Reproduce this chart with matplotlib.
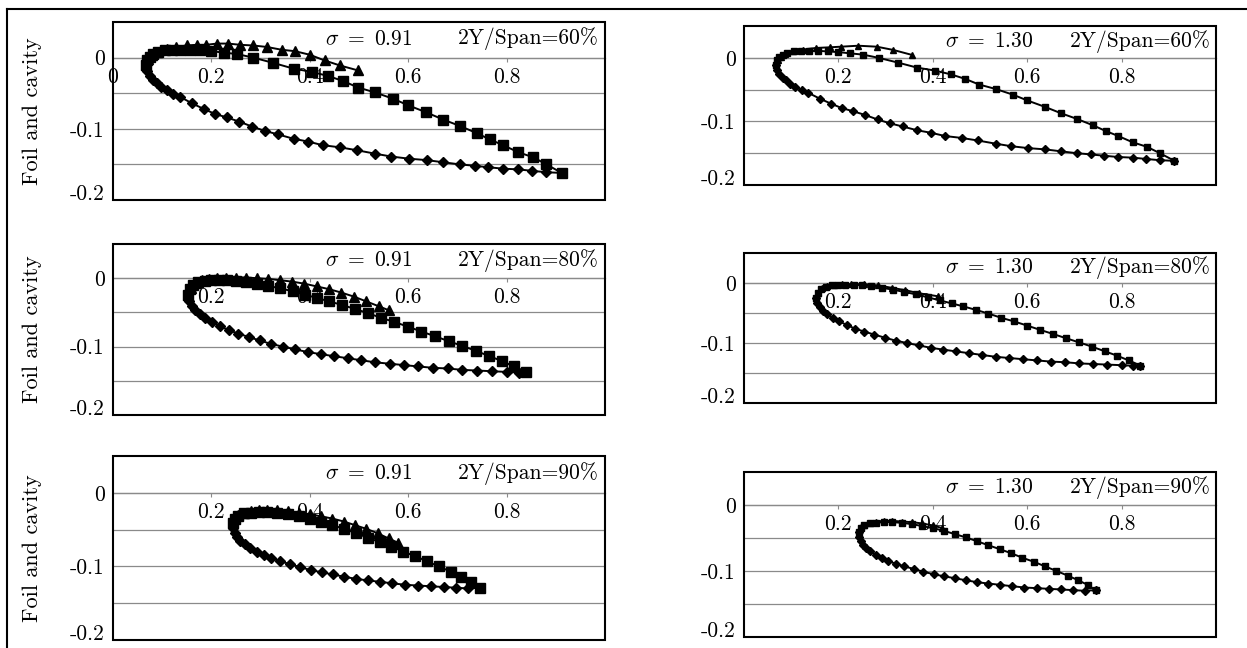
import matplotlib.pyplot as plt
from matplotlib.lines import Line2D
from matplotlib.patches import Rectangle

plt.rcParams['mathtext.fontset'] = 'cm'
plt.rcParams['font.family'] = ['cmr10', 'DejaVu Serif']
plt.rcParams['font.size'] = 15.5
plt.rcParams['axes.unicode_minus'] = False

# ---- data (x/c, y/c) ----
# 2Y/Span = 60%
upper60_x = [0.068, 0.070, 0.075, 0.082, 0.092, 0.105, 0.120, 0.137, 0.156, 0.177, 0.200, 0.225, 0.252,
             0.285, 0.326, 0.367, 0.404, 0.438, 0.468, 0.498, 0.533, 0.570, 0.600, 0.637, 0.671, 0.705,
             0.739, 0.766, 0.793, 0.824, 0.854, 0.881, 0.912]
upper60_y = [-0.011, -0.004, 0.001, 0.005, 0.008, 0.010, 0.011, 0.011, 0.011, 0.010, 0.009, 0.007, 0.005,
             0.000, -0.0075, -0.0155, -0.020, -0.026, -0.033, -0.042, -0.049, -0.058, -0.067, -0.077, -0.087,
             -0.096, -0.106, -0.115, -0.123, -0.133, -0.140, -0.150, -0.162]
lower60_x = [0.068, 0.070, 0.075, 0.082, 0.089, 0.098, 0.109, 0.122, 0.136, 0.160, 0.184, 0.207, 0.231,
             0.257, 0.283, 0.309, 0.336, 0.367, 0.397, 0.426, 0.461, 0.495, 0.533, 0.566, 0.602, 0.638,
             0.671, 0.705, 0.736, 0.763, 0.793, 0.824, 0.851, 0.881, 0.912]
lower60_y = [-0.011, -0.019, -0.026, -0.031, -0.035, -0.041, -0.046, -0.051, -0.055, -0.064, -0.072, -0.079,
             -0.084, -0.090, -0.097, -0.103, -0.108, -0.114, -0.118, -0.123, -0.126, -0.130, -0.135, -0.139,
             -0.142, -0.144, -0.147, -0.150, -0.152, -0.154, -0.156, -0.157, -0.159, -0.161, -0.162]
cav60a_x = [0.068, 0.072, 0.079, 0.089, 0.109, 0.129, 0.150, 0.170, 0.190, 0.211, 0.234, 0.258, 0.285,
            0.312, 0.343, 0.370, 0.400, 0.430, 0.461, 0.498]
cav60a_y = [-0.011, -0.002, 0.004, 0.008, 0.0126, 0.015, 0.017, 0.018, 0.018, 0.0197, 0.0197, 0.018, 0.017,
            0.015, 0.011, 0.009, 0.004, -0.004, -0.011, -0.018]
cav60b_x = [0.068, 0.072, 0.079, 0.086, 0.104, 0.125, 0.153, 0.182, 0.206, 0.242, 0.281, 0.316, 0.355]
cav60b_y = [-0.011, -0.004, 0.002, 0.006, 0.010, 0.013, 0.0155, 0.0165, 0.0175, 0.019, 0.0175, 0.0124, 0.0047]

# 2Y/Span = 80%
upper80_x = [0.153, 0.156, 0.163, 0.173, 0.186, 0.200, 0.215, 0.232, 0.250, 0.270, 0.292, 0.315, 0.340,
             0.365, 0.390, 0.415, 0.440, 0.465, 0.492, 0.518, 0.545, 0.572, 0.600, 0.627, 0.655, 0.682,
             0.710, 0.737, 0.765, 0.790, 0.815, 0.840]
upper80_y = [-0.025, -0.016, -0.010, -0.006, -0.004, -0.003, -0.003, -0.003, -0.004, -0.005, -0.008, -0.011,
             -0.015, -0.019, -0.024, -0.029, -0.034, -0.039, -0.045, -0.051, -0.058, -0.064, -0.071, -0.078,
             -0.085, -0.092, -0.099, -0.106, -0.114, -0.121, -0.129, -0.1375]
lower80_x = [0.153, 0.155, 0.160, 0.167, 0.176, 0.188, 0.202, 0.218, 0.235, 0.255, 0.276, 0.298, 0.321,
             0.345, 0.370, 0.396, 0.422, 0.449, 0.477, 0.505, 0.533, 0.562, 0.591, 0.620, 0.650, 0.680,
             0.710, 0.740, 0.770, 0.800, 0.825, 0.840]
lower80_y = [-0.025, -0.033, -0.040, -0.046, -0.052, -0.058, -0.064, -0.070, -0.076, -0.081, -0.086, -0.091,
             -0.096, -0.100, -0.104, -0.108, -0.111, -0.114, -0.117, -0.120, -0.123, -0.125, -0.127, -0.129,
             -0.131, -0.132, -0.134, -0.135, -0.136, -0.137, -0.138, -0.1375]
cav80a_x = [0.153, 0.158, 0.168, 0.180, 0.195, 0.212, 0.230, 0.250, 0.271, 0.293, 0.316, 0.340, 0.364,
            0.389, 0.414, 0.439, 0.464, 0.490, 0.515, 0.540, 0.561]
cav80a_y = [-0.025, -0.014, -0.007, -0.003, -0.001, 0.000, 0.001, 0.001, 0.001, 0.000, -0.001, -0.003,
            -0.005, -0.008, -0.012, -0.016, -0.021, -0.027, -0.034, -0.041, -0.047]
cav80b_x = [0.153, 0.157, 0.165, 0.176, 0.190, 0.208, 0.227, 0.255, 0.284, 0.313, 0.342, 0.370, 0.410]
cav80b_y = [-0.025, -0.016, -0.009, -0.005, -0.003, -0.002, -0.002, -0.002, -0.004, -0.008, -0.012, -0.017, -0.022]

# 2Y/Span = 90%
upper90_x = [0.243, 0.247, 0.255, 0.266, 0.280, 0.296, 0.314, 0.334, 0.356, 0.378, 0.400, 0.423, 0.446,
             0.470, 0.494, 0.518, 0.542, 0.566, 0.590, 0.614, 0.638, 0.662, 0.686, 0.708, 0.728, 0.745]
upper90_y = [-0.041, -0.035, -0.031, -0.028, -0.027, -0.026, -0.026, -0.027, -0.029, -0.032, -0.035, -0.039,
             -0.044, -0.049, -0.055, -0.061, -0.067, -0.073, -0.080, -0.086, -0.093, -0.100, -0.107, -0.114,
             -0.121, -0.129]
lower90_x = [0.243, 0.244, 0.247, 0.252, 0.259, 0.268, 0.279, 0.292, 0.306, 0.322, 0.340, 0.360, 0.380,
             0.402, 0.424, 0.447, 0.470, 0.494, 0.518, 0.543, 0.568, 0.594, 0.620, 0.646, 0.672, 0.698,
             0.722, 0.745]
lower90_y = [-0.041, -0.048, -0.054, -0.060, -0.065, -0.070, -0.075, -0.080, -0.085, -0.089, -0.093, -0.097,
             -0.101, -0.105, -0.108, -0.111, -0.114, -0.117, -0.119, -0.121, -0.123, -0.125, -0.126, -0.127,
             -0.128, -0.129, -0.130, -0.129]
cav90a_x = [0.243, 0.247, 0.255, 0.266, 0.280, 0.296, 0.314, 0.334, 0.356, 0.378, 0.400, 0.423, 0.446,
            0.469, 0.492, 0.515, 0.538, 0.560, 0.580]
cav90a_y = [-0.041, -0.034, -0.030, -0.027, -0.025, -0.024, -0.024, -0.024, -0.025, -0.027, -0.029, -0.032,
            -0.035, -0.039, -0.044, -0.049, -0.055, -0.062, -0.068]
cav90b_x = [0.243, 0.247, 0.255, 0.266, 0.280, 0.296, 0.314, 0.334, 0.356, 0.378, 0.400, 0.420]
cav90b_y = [-0.041, -0.034, -0.030, -0.027, -0.025, -0.024, -0.024, -0.025, -0.026, -0.028, -0.031, -0.035]

sigma_labels = [r'$\sigma\ =\ 0.91$', r'$\sigma\ =\ 1.30$']
span_labels = ['2Y/Span=60%', '2Y/Span=80%', '2Y/Span=90%']
ytick_vals = [0.0, -0.05, -0.1, -0.15, -0.2]
ytick_text = ['0', '', '-0.1', '', '-0.2']

W, H = 1247, 648
fig = plt.figure(figsize=(W / 100, H / 100), dpi=100)

def px_rect(l, r, t, b):
    return [l / W, 1 - b / H, (r - l) / W, (b - t) / H]

def draw_panel(rect, up, lo, cav, sig, span, big, xticks, ylabel):
    ax = fig.add_axes(rect)
    ax.set_xlim(0, 1)
    ax.set_ylim(-0.2, 0.05)
    if big:
        msd, mss, mst, lw = 5.5, 7, 7.5, 1.4
    else:
        msd, mss, mst, lw = 3.8, 4, 4.5, 1.4
    ax.plot(lo[0], lo[1], color='black', lw=lw, marker='D', ms=msd, zorder=3)
    ax.plot(up[0], up[1], color='black', lw=lw, marker='s', ms=mss, zorder=3)
    ax.plot(cav[0], cav[1], color='black', lw=lw, marker='^', ms=mst, zorder=3)

    ax.set_yticks(ytick_vals)
    ax.set_yticklabels(ytick_text)
    ax.yaxis.grid(True, color='#8a8a8a', lw=0.9)
    ax.tick_params(axis='y', length=0, pad=6)
    # bottom label sits on its gridline in the original
    ax.get_yticklabels()[-1].set_va('baseline')

    ax.set_xticks(xticks)
    ax.set_xticklabels(['%g' % v for v in xticks])
    ax.tick_params(axis='x', length=3, direction='out', pad=4, color='#8a8a8a')
    if xticks[0] == 0:
        ax.get_xticklabels()[0].set_ha('left')

    for s in ['top', 'left', 'right']:
        ax.spines[s].set_visible(False)
    ax.spines['bottom'].set_position(('data', 0))
    ax.spines['bottom'].set_color('#8a8a8a')
    ax.spines['bottom'].set_linewidth(0.9)
    ax.add_patch(Rectangle((0, 0), 1, 1, transform=ax.transAxes, fill=False,
                           ec='black', lw=1.5, zorder=4, clip_on=False))

    ax.text(0.52, 0.905, sig, transform=ax.transAxes, ha='center', va='center')
    ax.text(0.988, 0.905, span, transform=ax.transAxes, ha='right', va='center')
    if ylabel:
        ax.text(-0.165, 0.5, 'Foil and cavity', transform=ax.transAxes,
                rotation=90, ha='center', va='center', fontsize=16)
    return ax

xt_zero = [0, 0.2, 0.4, 0.6, 0.8]
xt = [0.2, 0.4, 0.6, 0.8]

draw_panel(px_rect(113, 605, 22, 200), (upper60_x, upper60_y), (lower60_x, lower60_y),
           (cav60a_x, cav60a_y), sigma_labels[0], span_labels[0], True, xt_zero, True)
draw_panel(px_rect(744, 1216, 26, 185), (upper60_x, upper60_y), (lower60_x, lower60_y),
           (cav60b_x, cav60b_y), sigma_labels[1], span_labels[0], False, xt, False)
draw_panel(px_rect(113, 605, 244, 415), (upper80_x, upper80_y), (lower80_x, lower80_y),
           (cav80a_x, cav80a_y), sigma_labels[0], span_labels[1], True, xt, True)
draw_panel(px_rect(744, 1216, 253, 403), (upper80_x, upper80_y), (lower80_x, lower80_y),
           (cav80b_x, cav80b_y), sigma_labels[1], span_labels[1], False, xt, False)
draw_panel(px_rect(113, 605, 456, 640), (upper90_x, upper90_y), (lower90_x, lower90_y),
           (cav90a_x, cav90a_y), sigma_labels[0], span_labels[2], True, xt, True)
draw_panel(px_rect(744, 1216, 472, 637), (upper90_x, upper90_y), (lower90_x, lower90_y),
           (cav90b_x, cav90b_y), sigma_labels[1], span_labels[2], False, xt, False)

# outer frame of the scanned figure (left and top edges)
fig.add_artist(Line2D([7 / W, 7 / W], [0, 1 - 9 / H], transform=fig.transFigure, color='black', lw=1.5))
fig.add_artist(Line2D([7 / W, 1], [1 - 9 / H, 1 - 9 / H], transform=fig.transFigure, color='black', lw=1.5))

fig.savefig('out.png', dpi=100)
